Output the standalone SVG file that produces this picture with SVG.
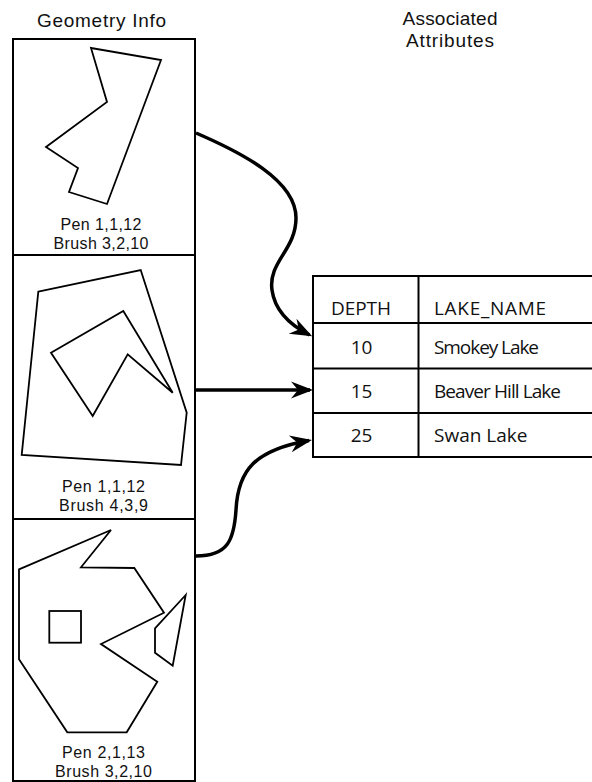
<svg xmlns="http://www.w3.org/2000/svg" width="592" height="782" viewBox="0 0 592 782">
<style>
  text { font-family: "Open Sans", "Liberation Sans", sans-serif; fill: #111; }
  .hdr { font-family: "Liberation Sans", "Open Sans", sans-serif; font-size: 19px; text-anchor: middle; }
  .lbl { font-family: "Liberation Sans", "Open Sans", sans-serif; font-size: 16px; text-anchor: middle; }
  .cell { font-size: 19px; }
  .num { font-size: 19px; text-anchor: middle; }
  .frame { fill: none; stroke: #000; stroke-width: 2; }
  .shape { fill: none; stroke: #000; stroke-width: 1.8; stroke-linejoin: miter; }
  .conn { fill: none; stroke: #000; stroke-width: 3.5; }
</style>
<defs>
  <marker id="arr" markerUnits="userSpaceOnUse" markerWidth="30" markerHeight="24" viewBox="-22 -12 30 24" refX="0" refY="0" orient="auto" overflow="visible">
    <path d="M3,0 L-19,-8.5 L-12,0 L-19,8.5 Z" fill="#000"/>
  </marker>
</defs>

<text class="hdr" x="101.5" y="26.5" textLength="129">Geometry Info</text>
<text class="hdr" x="450" y="25" textLength="95">Associated</text>
<text class="hdr" x="450" y="47" textLength="88">Attributes</text>

<g id="geometry-box">
  <rect class="frame" x="13" y="39" width="182" height="742"/>
</g>

<g id="geom1">
  <line class="frame" x1="13" y1="255" x2="195" y2="255"/>
  <polygon class="shape" points="91,48 161,60 107,204 69,192 78,168 46,147 107,102"/>
  <text class="lbl" x="101" y="229.5" textLength="81">Pen 1,1,12</text>
  <text class="lbl" x="101" y="248.5" textLength="95">Brush 3,2,10</text>
</g>

<g id="geom2">
  <line class="frame" x1="13" y1="519" x2="195" y2="519"/>
  <polygon class="shape" points="38.3,291.7 140.7,270 186.7,412.7 181,465 21.7,455"/>
  <polygon class="shape" points="51,352.7 123.3,311 172.7,392.7 127.7,354.3 92.7,416"/>
  <text class="lbl" x="103.5" y="492" textLength="83">Pen 1,1,12</text>
  <text class="lbl" x="103.5" y="511" textLength="89">Brush 4,3,9</text>
</g>

<g id="geom3">
  <polygon class="shape" points="19,569.3 111,530 81,567.3 134.3,568 164,612.7 101,644 157.3,681.7 126.7,732.3 67.3,732.3 19,659.3"/>
  <rect class="shape" x="49.3" y="611" width="31.7" height="31.7"/>
  <polygon class="shape" points="185.7,595 155,628.3 155,652.7 172.7,665.7"/>
  <text class="lbl" x="103.5" y="758" textLength="83">Pen 2,1,13</text>
  <text class="lbl" x="103.5" y="777" textLength="97">Brush 3,2,10</text>
</g>

<g id="attribute-table">
  <rect class="frame" x="313" y="276" width="290" height="181"/>
  <line class="frame" x1="418.5" y1="276" x2="418.5" y2="457"/>
  <line class="frame" x1="313" y1="323" x2="600" y2="323"/>
  <line class="frame" x1="313" y1="368.5" x2="600" y2="368.5"/>
  <line class="frame" x1="313" y1="413" x2="600" y2="413"/>
  <text class="num" x="361" y="315" textLength="60">DEPTH</text>
  <text class="cell" x="434" y="315" textLength="112">LAKE_NAME</text>
  <text class="num" x="361.5" y="354">10</text>
  <text class="cell" x="434" y="354" textLength="105">Smokey Lake</text>
  <text class="num" x="361.5" y="398">15</text>
  <text class="cell" x="434" y="398" textLength="127">Beaver Hill Lake</text>
  <text class="num" x="361.5" y="442">25</text>
  <text class="cell" x="434" y="442">Swan Lake</text>
</g>

<g id="connectors">
  <path class="conn" marker-end="url(#arr)" d="M196,133 C240,152 296,180 296,218 C296,250 268,262 272,290 C275,312 292,326 309.5,335"/>
  <path class="conn" marker-end="url(#arr)" d="M196,390 L310,390"/>
  <path class="conn" marker-end="url(#arr)" d="M196,556 C228,556 234,540 236,510 C238,470 255,450 309,440.5"/>
</g>
</svg>
